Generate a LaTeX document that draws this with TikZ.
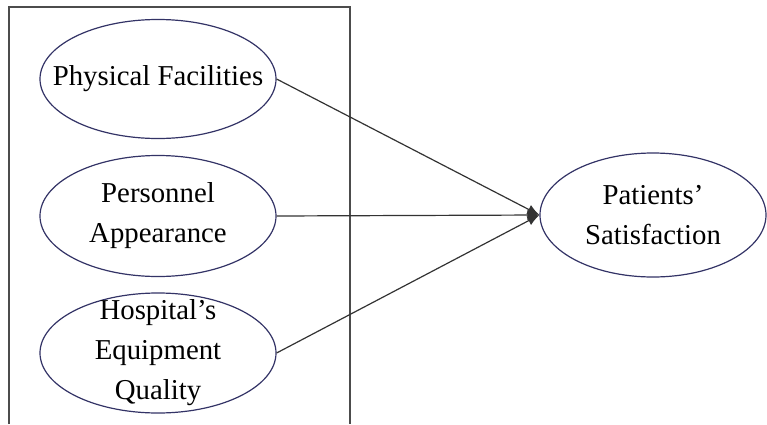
\documentclass[tikz,border=0pt]{standalone}
\usepackage{fontspec}
\setmainfont{Liberation Serif}
\usetikzlibrary{shapes.geometric,arrows.meta}
\tikzset{
	construct/.style={draw=black!75!blue!80, line width=0.6pt, ellipse, inner sep=0pt},
	caption/.style={align=center, inner sep=0pt, font=\fontsize{14.4}{20}\selectfont},
	path/.style={draw=black!80, line width=0.6pt, -{Latex[length=6pt,width=5pt]}}
}

\begin{document}
\begin{tikzpicture}[x=0.5pt, y=-0.5pt]
			%%%%% START %%%%%
			
			\useasboundingbox (0, 0) rectangle (767, 424);
			\draw[line width=0.6pt, color=black!70] (9, 424) -- (9, 7) -- (350, 7) -- (350, 424);
			
			\node[construct, minimum width=118pt, minimum height=59.5pt, label={[caption]center:Physical Facilities}] (pf) at (158, 79) {};
			\node[construct, minimum width=118pt, minimum height=60.5pt, label={[caption]center:Personnel\\Appearance}] (pa) at (158, 216) {};
			\node[construct, minimum width=118pt, minimum height=60pt, label={[caption]center:Hospital's\\Equipment\\Quality}] (eq) at (158, 353) {};
			
			\node[construct, minimum width=113pt, minimum height=62pt, label={[caption]center:Patients'\\Satisfaction}] (ps) at (653, 215) {};
			
			\draw[path] (pf.east) -- (ps.west);
			\draw[path] (pa.east) -- (ps.west);
			\draw[path] (eq.east) -- (ps.west);
			
			%%%%% END %%%%%
\end{tikzpicture}
\end{document}
